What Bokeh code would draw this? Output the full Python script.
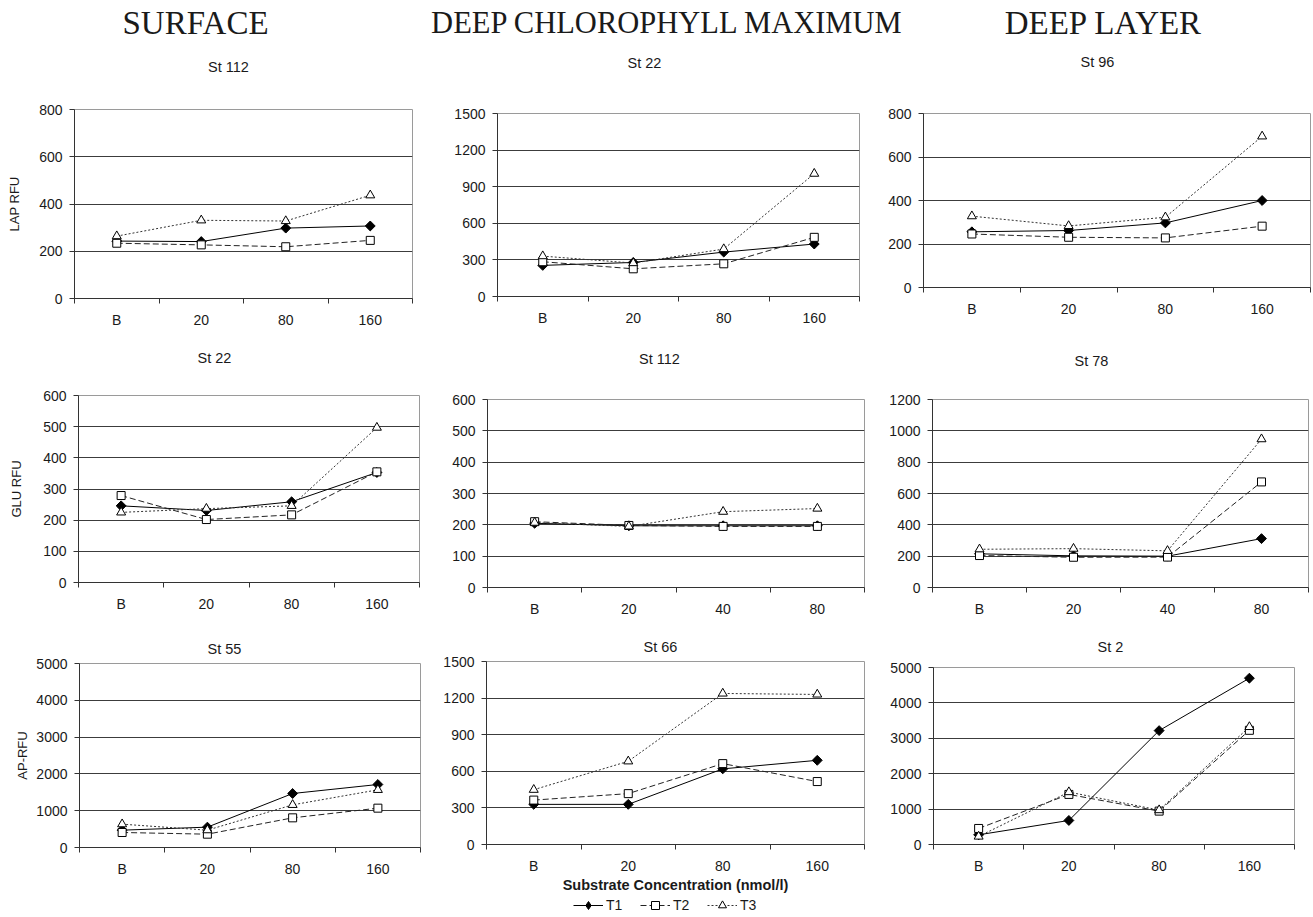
from bokeh.plotting import figure
from bokeh.layouts import column, row
from bokeh.models import FixedTicker, Range1d, Legend, LegendItem, Label
from bokeh.embed import file_html
from bokeh.resources import INLINE

SANS = "Liberation Sans"
SERIF = "Liberation Serif"
INK = "#1a1a1a"

# ---------------- texts ----------------
column_headers = ["SURFACE", "DEEP CHLOROPHYLL MAXIMUM", "DEEP LAYER"]
row_labels = ["LAP RFU", "GLU RFU", "AP-RFU"]
x_axis_title = "Substrate Concentration (nmol/l)"
series_names = ["T1", "T2", "T3"]

# ---------------- categories ----------------
cats_160 = ["B", "20", "80", "160"]
cats_80 = ["B", "20", "40", "80"]

# ---------------- LAP ----------------
lap_surf_station = "St 112"
lap_surf_t1 = [243, 241, 298, 307]
lap_surf_t2 = [234, 227, 219, 246]
lap_surf_t3 = [264, 331, 328, 437]
lap_surf_ticks = [0, 200, 400, 600, 800]

lap_dcm_station = "St 22"
lap_dcm_t1 = [255, 279, 364, 430]
lap_dcm_t2 = [285, 227, 268, 485]
lap_dcm_t3 = [331, 274, 389, 1007]
lap_dcm_ticks = [0, 300, 600, 900, 1200, 1500]

lap_deep_station = "St 96"
lap_deep_t1 = [256, 262, 297, 400]
lap_deep_t2 = [246, 231, 228, 282]
lap_deep_t3 = [328, 283, 323, 695]
lap_deep_ticks = [0, 200, 400, 600, 800]

# ---------------- GLU ----------------
glu_surf_station = "St 22"
glu_surf_t1 = [246, 231, 259, 353]
glu_surf_t2 = [279, 202, 217, 355]
glu_surf_t3 = [225, 237, 246, 497]
glu_surf_ticks = [0, 100, 200, 300, 400, 500, 600]

glu_dcm_station = "St 112"
glu_dcm_t1 = [205, 197, 197, 197]
glu_dcm_t2 = [210, 198, 195, 195]
glu_dcm_t3 = [207, 195, 242, 252]
glu_dcm_ticks = [0, 100, 200, 300, 400, 500, 600]

glu_deep_station = "St  78"
glu_deep_t1 = [215, 202, 200, 312]
glu_deep_t2 = [204, 193, 194, 674]
glu_deep_t3 = [244, 248, 234, 947]
glu_deep_ticks = [0, 200, 400, 600, 800, 1000, 1200]

# ---------------- AP ----------------
ap_surf_station = "St 55"
ap_surf_t1 = [471, 553, 1467, 1712]
ap_surf_t2 = [408, 362, 806, 1069]
ap_surf_t3 = [634, 471, 1159, 1567]
ap_surf_ticks = [0, 1000, 2000, 3000, 4000, 5000]

ap_dcm_station = "St 66"
ap_dcm_t1 = [329, 329, 620, 690]
ap_dcm_t2 = [364, 417, 663, 516]
ap_dcm_t3 = [449, 682, 1238, 1230]
ap_dcm_ticks = [0, 300, 600, 900, 1200, 1500]

ap_deep_station = "St 2"
ap_deep_t1 = [274, 679, 3217, 4698]
ap_deep_t2 = [453, 1415, 943, 3226]
ap_deep_t3 = [226, 1481, 972, 3321]
ap_deep_ticks = [0, 1000, 2000, 3000, 4000, 5000]

TOTAL_W = 1311

# ---------------- series styles ----------------
LINE_STYLE = [
    dict(line_color="black", line_width=1),
    dict(line_color="#222222", line_width=1, line_dash="6 3"),
    dict(line_color="#333333", line_width=1, line_dash="2 2"),
]
MARK_STYLE = [
    dict(marker="square", angle=0.785398, size=7, fill_color="black", line_color="black"),
    dict(marker="square", size=8, fill_color="white", line_color="black"),
    dict(marker="triangle", size=9, fill_color="white", line_color="black"),
]
LEGEND_MARK = [
    dict(marker="diamond", fill_color="black", line_color="black"),
    dict(marker="square", fill_color="white", line_color="black"),
    dict(marker="triangle", fill_color="white", line_color="black"),
]


def strip(height):
    s = figure(width=TOTAL_W, height=height, x_range=Range1d(0, TOTAL_W),
               y_range=Range1d(0, height), x_axis_type=None, y_axis_type=None,
               toolbar_location=None, output_backend="svg", min_border=0,
               outline_line_color=None, title=None)
    s.xgrid.visible = False
    s.ygrid.visible = False
    return s


def put(s, strip_top, text, cx, cy, font, size):
    s.add_layout(Label(x=cx, y=s.height - (cy - strip_top), text=text,
                       text_align="center", text_baseline="middle",
                       text_font=font, text_font_size=size, text_color=INK))


def panel(cats, t1, t2, t3, ticks, geom, ylabel=None, ylabel_standoff=0, xlabel=None):
    left, fw, right, top, fh, bottom = geom
    n = len(cats)
    xs = [i + 0.5 for i in range(n)]
    p = figure(width=left + fw + right, height=top + fh + bottom,
               x_range=Range1d(0, n), y_range=Range1d(ticks[0], ticks[-1]),
               output_backend="svg", toolbar_location=None, title=None,
               min_border_left=left, min_border_right=right,
               min_border_top=top, min_border_bottom=bottom,
               outline_line_color="#9a9a9a", background_fill_color="white",
               border_fill_color="white")

    p.xgrid.visible = False
    p.ygrid.ticker = FixedTicker(ticks=ticks[1:-1])
    p.ygrid.grid_line_color = "#3c3c3c"
    p.ygrid.grid_line_width = 1

    ax = p.xaxis[0]
    ax.ticker = FixedTicker(ticks=xs, minor_ticks=list(range(n + 1)))
    ax.major_label_overrides = {x: c for x, c in zip(xs, cats)}
    ax.major_tick_out = 0
    ax.major_tick_in = 0
    ax.minor_tick_out = 5
    ax.minor_tick_in = 0
    ax.minor_tick_line_color = "#333333"
    ax.axis_line_color = "#333333"
    ax.major_label_standoff = 8
    ax.major_label_text_font = SANS
    ax.major_label_text_font_size = "14px"
    ax.major_label_text_color = INK
    if xlabel:
        ax.axis_label = xlabel
        ax.axis_label_text_font = SANS
        ax.axis_label_text_font_size = "14.5px"
        ax.axis_label_text_font_style = "bold"
        ax.axis_label_text_color = INK
        ax.axis_label_standoff = 0

    ay = p.yaxis[0]
    ay.ticker = FixedTicker(ticks=ticks)
    ay.major_tick_out = 5
    ay.major_tick_in = 0
    ay.minor_tick_out = 0
    ay.minor_tick_in = 0
    ay.major_tick_line_color = "#333333"
    ay.axis_line_color = "#333333"
    ay.major_label_standoff = 7
    ay.major_label_text_font = SANS
    ay.major_label_text_font_size = "14px"
    ay.major_label_text_color = INK
    if ylabel:
        ay.axis_label = ylabel
        ay.axis_label_text_font = SANS
        ay.axis_label_text_font_size = "13px"
        ay.axis_label_text_font_style = "normal"
        ay.axis_label_text_color = INK
        ay.axis_label_standoff = ylabel_standoff

    series = [t1, t2, t3]
    for ys, st in zip(series, LINE_STYLE):
        p.line(xs, ys, **st)
    for ys, st in zip(series, MARK_STYLE):
        p.scatter(xs, ys, **st)
    return p


# ---- strip A: column headers + first-row station titles (page y 0..100)
sA = strip(100)
for txt, cx, fs in zip(column_headers, [195, 667, 1103], ["33px", "30.5px", "33px"]):
    put(sA, 0, txt, cx, 22.5, SERIF, fs)
put(sA, 0, lap_surf_station, 228, 66, SANS, "14.5px")
put(sA, 0, lap_dcm_station, 644, 62, SANS, "14.5px")
put(sA, 0, lap_deep_station, 1097, 61, SANS, "14.5px")

# geometry: left, frame_w, right, top, frame_h, bottom   (row 1: page y 100..330)
p1 = panel(cats_160, lap_surf_t1, lap_surf_t2, lap_surf_t3, lap_surf_ticks,
           (74, 338, 28, 9, 190, 31), ylabel=row_labels[0], ylabel_standoff=14)
p2 = panel(cats_160, lap_dcm_t1, lap_dcm_t2, lap_dcm_t3, lap_dcm_ticks,
           (57, 362, 21, 13, 183, 34))
p3 = panel(cats_160, lap_deep_t1, lap_deep_t2, lap_deep_t3, lap_deep_ticks,
           (43, 387, 1, 13, 174, 43))

# ---- strip B: second-row station titles (page y 330..385)
sB = strip(55)
put(sB, 330, glu_surf_station, 214, 357, SANS, "14.5px")
put(sB, 330, glu_dcm_station, 659, 358, SANS, "14.5px")
put(sB, 330, glu_deep_station, 1093, 360, SANS, "14.5px")

# row 2: page y 385..619
p4 = panel(cats_160, glu_surf_t1, glu_surf_t2, glu_surf_t3, glu_surf_ticks,
           (78, 341, 21, 10, 187, 37), ylabel=row_labels[1], ylabel_standoff=16)
p5 = panel(cats_80, glu_dcm_t1, glu_dcm_t2, glu_dcm_t3, glu_dcm_ticks,
           (47, 377, 16, 14, 189, 31))
p6 = panel(cats_80, glu_deep_t1, glu_deep_t2, glu_deep_t3, glu_deep_ticks,
           (52, 376, 3, 14, 189, 31))

# ---- strip C: third-row station titles (page y 619..655)
sC = strip(36)
put(sC, 619, ap_surf_station, 224, 648, SANS, "14.5px")
put(sC, 619, ap_dcm_station, 660, 646, SANS, "14.5px")
put(sC, 619, ap_deep_station, 1110, 646, SANS, "14.5px")

# row 3: page y 655..895
p7 = panel(cats_160, ap_surf_t1, ap_surf_t2, ap_surf_t3, ap_surf_ticks,
           (79, 341, 20, 8, 184, 48), ylabel=row_labels[2], ylabel_standoff=3)
p8 = panel(cats_160, ap_dcm_t1, ap_dcm_t2, ap_dcm_t3, ap_dcm_ticks,
           (44, 380, 16, 6, 187, 47), xlabel=x_axis_title)
p9 = panel(cats_160, ap_deep_t1, ap_deep_t2, ap_deep_t3, ap_deep_ticks,
           (53, 361, 17, 12, 177, 51))

# ---- strip D: legend (page y 895..915); legend keys use off-screen stand-in renderers
sD = strip(20)
items = []
for name, ls, ms in zip(series_names, LINE_STYLE, LEGEND_MARK):
    lr = sD.line([-100, -90], [-100, -100], **ls)
    mr = sD.scatter([-100], [-100], **ms)
    items.append(LegendItem(label=name, renderers=[lr, mr]))
sD.add_layout(Legend(items=items, orientation="horizontal", location=(573, 0),
                     border_line_color=None, background_fill_alpha=0,
                     glyph_width=30, glyph_height=20, label_height=20,
                     label_standoff=3, spacing=14, padding=0, margin=0,
                     label_text_font=SANS, label_text_font_size="14px",
                     label_text_color=INK), "center")

layout = column(sA,
                row(column(p1), column(p2), column(p3)),
                sB,
                row(column(p4), column(p5), column(p6)),
                sC,
                row(column(p7), column(p8), column(p9)),
                sD)

with open("out.html", "w") as f:
    f.write(file_html(layout, INLINE))
